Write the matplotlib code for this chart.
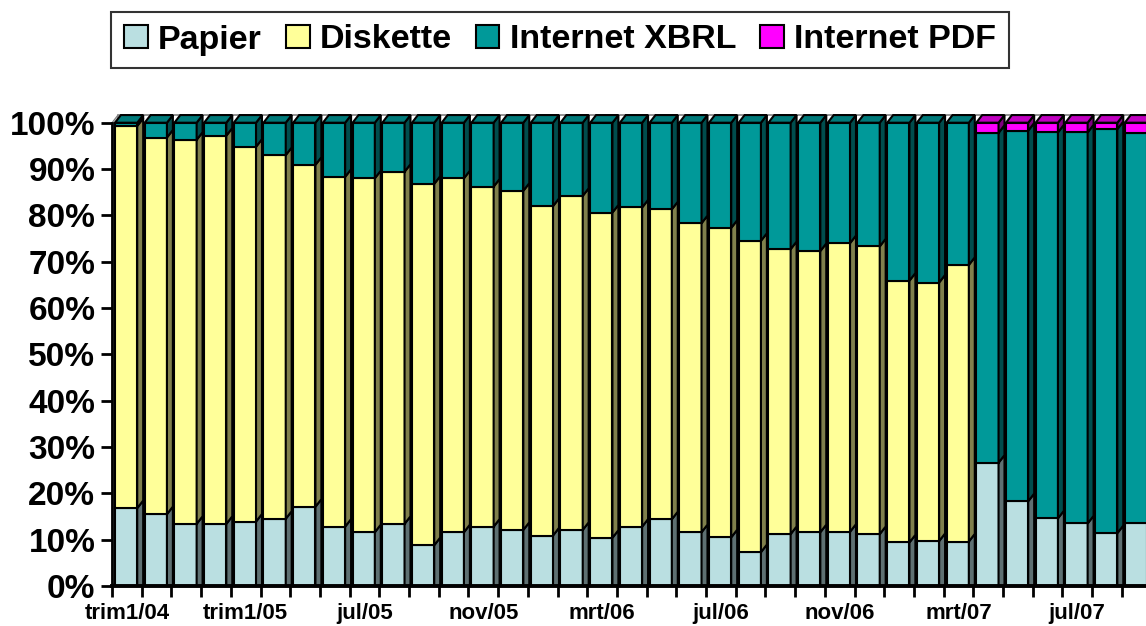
import matplotlib
matplotlib.use('Agg')
import matplotlib.pyplot as plt
from matplotlib.patches import Polygon, Patch
import numpy as np

plt.rcParams['font.family'] = ['Liberation Sans', 'DejaVu Sans']
plt.rcParams['font.weight'] = 'bold'

maanden = ['trim1/04', 'trim2/04', 'trim3/04', 'trim4/04', 'trim1/05', 'apr/05', 'mei/05', 'jun/05',
           'jul/05', 'aug/05', 'sep/05', 'okt/05', 'nov/05', 'dec/05', 'jan/06', 'feb/06',
           'mrt/06', 'apr/06', 'mei/06', 'jun/06', 'jul/06', 'aug/06', 'sep/06', 'okt/06',
           'nov/06', 'dec/06', 'jan/07', 'feb/07', 'mrt/07', 'apr/07', 'mei/07', 'jun/07',
           'jul/07', 'aug/07', 'sep/07']

# percentages per maand
papier = [16.8, 15.5, 13.4, 13.4, 13.9, 14.5, 17.1, 12.8, 11.6, 13.4, 8.8, 11.6, 12.8, 12.1, 10.9, 12.1,
          10.4, 12.8, 14.4, 11.6, 10.5, 7.3, 11.2, 11.6, 11.7, 11.2, 9.4, 9.7, 9.6, 26.6, 18.3, 14.6,
          13.5, 11.4, 13.5]
diskette = [82.5, 81.3, 82.9, 83.8, 80.9, 78.5, 73.8, 75.5, 76.4, 76.0, 78.0, 76.4, 73.4, 73.2, 71.1, 72.1,
            70.2, 68.9, 66.9, 66.7, 66.8, 67.2, 61.5, 60.7, 62.3, 62.1, 56.5, 55.8, 59.7, 0, 0, 0,
            0, 0, 0]
xbrl = [0.7, 3.2, 3.7, 2.8, 5.2, 7.0, 9.1, 11.7, 12.0, 10.6, 13.2, 12.0, 13.8, 14.7, 18.0, 15.8,
        19.4, 18.3, 18.7, 21.7, 22.7, 25.5, 27.3, 27.7, 26.0, 26.7, 34.1, 34.5, 30.7, 71.2, 80.0, 83.3,
        84.4, 87.2, 84.3]
pdf = [0] * 29 + [2.2, 1.7, 2.1, 2.1, 1.4, 2.2]

reeksen = ['Papier', 'Diskette', 'Internet XBRL', 'Internet PDF']
voor = ['#BADFE1', '#FFFF99', '#009999', '#FF00FF']
zij = ['#5E7072', '#80804C', '#004D4D', '#800080']
boven = ['#8FB0B2', '#CCCC77', '#007A7A', '#C000C0']

data = np.array([papier, diskette, xbrl, pdf], dtype=float)
data = data / data.sum(axis=0) * 100

n = len(maanden)
x0 = np.arange(n) + 0.1
breed = 0.75
dx, dy = 0.2, 1.65

fig = plt.figure(figsize=(11.46, 6.26), dpi=100)
ax = fig.add_axes([112 / 1146, 40 / 626, 1034 / 1146, 463.3 / 626])
ax.set_xlim(0, 1034 / 29.7)
ax.set_ylim(0, 100)

# linker wand en bovenrand achterwand
ax.add_patch(Polygon([(0, 0), (dx, dy), (dx, 100 + dy), (0, 100)], closed=True,
                     facecolor='#C8C8C8', edgecolor='#808080', lw=0.8, clip_on=False, zorder=1))
ax.plot([dx, 40], [100 + dy, 100 + dy], color='#808080', lw=1.2, clip_on=False, zorder=1)

onder = np.zeros(n)
for k in range(4):
    h = data[k]
    for i in range(n):
        if h[i] <= 0:
            continue
        b = onder[i]
        t = b + h[i]
        x1 = x0[i] + breed
        ax.bar(x0[i], h[i], width=breed, bottom=b, align='edge', color=voor[k],
               edgecolor='black', linewidth=1.5, zorder=3, clip_on=False)
        yb = b + dy if b > 0 else 0
        ax.add_patch(Polygon([(x1, b), (x1 + dx, yb), (x1 + dx, t + dy), (x1, t)], closed=True,
                             facecolor=zij[k], edgecolor='black', lw=1.5, zorder=3, clip_on=False))
        if t > 99.9:
            ax.add_patch(Polygon([(x0[i], t), (x1, t), (x1 + dx, t + dy), (x0[i] + dx, t + dy)],
                                 closed=True, facecolor=boven[k], edgecolor='black', lw=1.5,
                                 zorder=3, clip_on=False))
    onder = onder + h

for s in ['top', 'right']:
    ax.spines[s].set_visible(False)
ax.spines['left'].set_linewidth(2)
ax.spines['bottom'].set_linewidth(2.8)
ax.spines['bottom'].set_zorder(5)

ax.set_yticks(np.arange(0, 101, 10))
ax.set_yticklabels([f'{v}%' for v in range(0, 101, 10)], fontsize=24, fontweight='bold')
ax.tick_params(axis='y', direction='out', length=8, width=2, pad=4)

ax.set_xticks(np.arange(0, n))
ax.set_xticklabels([])
ax.tick_params(axis='x', which='major', direction='out', length=8, width=2)
ax.set_xticks(np.arange(0, n, 4) + 0.5, minor=True)
ax.set_xticklabels(maanden[::4], minor=True, fontsize=16, fontweight='bold')
ax.tick_params(axis='x', which='minor', length=0, pad=12)

handles = [Patch(facecolor=voor[k], edgecolor='black', lw=1.5) for k in range(4)]
leg = fig.legend(handles, reeksen, loc='center', bbox_to_anchor=(560 / 1146, 1 - 40 / 626), ncol=4,
                 prop={'weight': 'bold', 'size': 24.5}, frameon=True, fancybox=False,
                 handlelength=0.7, handleheight=0.65, handletextpad=0.3, columnspacing=0.7,
                 borderpad=0.38, edgecolor='black')
leg.get_frame().set_linewidth(1.5)

fig.savefig('out.png', dpi=100)
